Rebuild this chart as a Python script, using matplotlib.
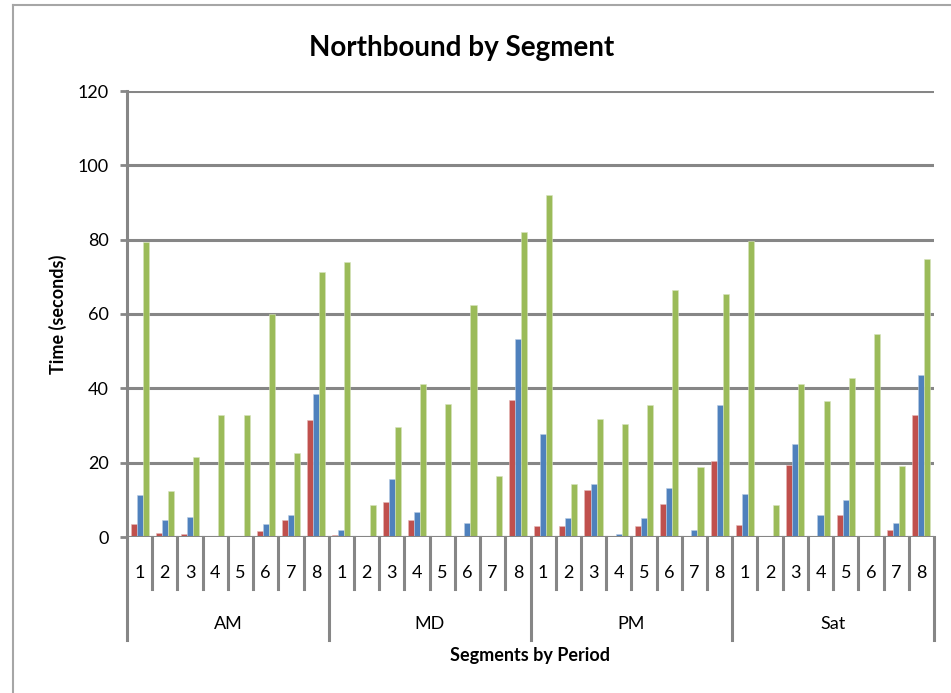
import numpy as np
import matplotlib.pyplot as plt
from matplotlib.transforms import blended_transform_factory
from matplotlib.lines import Line2D

plt.rcParams['font.family'] = ['Lato', 'DejaVu Sans']

periods = ["AM", "MD", "PM", "Sat"]
segments = ["1", "2", "3", "4", "5", "6", "7", "8"]

# three series per segment (red, blue, green), 8 segments per period
red = [3.6, 1.2, 0.7, 0, 0, 1.5, 4.5, 31.4,
       0.5, 0, 9.5, 4.5, 0, 0, 0, 36.9,
       2.9, 2.9, 12.6, 0, 2.9, 8.8, 0, 20.5,
       3.3, 0, 19.3, 0, 5.8, 0, 2.0, 32.7]
blue = [11.2, 4.5, 5.4, 0, 0, 3.6, 5.8, 38.6,
        2.0, 0, 15.5, 6.6, 0, 3.7, 0, 53.3,
        27.6, 5.0, 14.2, 0.7, 5.0, 13.3, 2.0, 35.5,
        11.7, 0, 25.1, 5.8, 10.0, 0, 3.7, 43.6]
green = [79.3, 12.5, 21.4, 32.7, 32.7, 60.0, 22.6, 71.4,
         73.9, 8.7, 29.7, 41.1, 35.7, 62.5, 16.3, 82.0,
         92.1, 14.2, 31.8, 30.5, 35.5, 66.5, 18.7, 65.4,
         79.7, 8.7, 41.1, 36.5, 42.8, 54.5, 19.2, 74.7]

W, H = 951, 693
fig = plt.figure(figsize=(W / 100, H / 100), dpi=100)
ax = fig.add_axes([127 / W, (H - 537) / H, (934 - 127) / W, (537 - 91) / H])

grey = "#868686"
n = len(red)
x = np.arange(n) + 0.5
bw = 0.24
ax.bar(x - bw, red, bw, color="#C0504D", edgecolor="#E6B9B8", linewidth=0.4, zorder=3)
ax.bar(x, blue, bw, color="#4F81BD", edgecolor="#B9CDE5", linewidth=0.4, zorder=3)
ax.bar(x + bw, green, bw, color="#9BBB59", edgecolor="#D7E4BD", linewidth=0.4, zorder=3)

ax.set_xlim(0, n)
ax.set_ylim(0, 120)
ax.set_yticks(range(0, 121, 20))
ax.yaxis.grid(True, color=grey, linewidth=2.2, zorder=1)
ax.tick_params(axis="y", length=5, width=2, color=grey, labelsize=13, pad=8)
for s in ["top", "right", "bottom"]:
    ax.spines[s].set_visible(False)
ax.spines["left"].set_color(grey)
ax.spines["left"].set_linewidth(2.2)

# segment labels under each group
ax.set_xticks(x)
ax.set_xticklabels(segments * len(periods), fontsize=13)
ax.tick_params(axis="x", length=0, pad=20)
ax.axhline(0, color=grey, linewidth=2.2, zorder=4)

# category separators
trans = blended_transform_factory(ax.transData, ax.transAxes)
seg_depth = 52 / 446
per_depth = 103 / 446
for i in range(n + 1):
    depth = per_depth if i % 8 == 0 else seg_depth
    ax.plot([i, i], [0, -depth], transform=trans, color=grey,
            linewidth=2.2, clip_on=False)
for j, p in enumerate(periods):
    ax.text(j * 8 + 4, -87 / 446, p, transform=trans, ha="center",
            va="center", fontsize=13)

ax.text(0.5, -118 / 446, "Segments by Period", transform=ax.transAxes,
        ha="center", va="center", fontsize=13, fontweight="bold")
ax.set_ylabel("Time (seconds)", fontsize=13, fontweight="bold")
ax.yaxis.set_label_coords(-60 / 807, 0.5)

fig.text(462 / W, 1 - 48 / H, "Northbound by Segment", ha="center",
         va="center", fontsize=20, fontweight="bold")

# chart frame (top and left edges visible)
fig.add_artist(Line2D([13 / W, 1], [1 - 5 / H, 1 - 5 / H], color="#A6A6A6",
                      linewidth=1.5, transform=fig.transFigure))
fig.add_artist(Line2D([13 / W, 13 / W], [0, 1 - 5 / H], color="#A6A6A6",
                      linewidth=1.5, transform=fig.transFigure))

fig.savefig("out.png", dpi=100)
